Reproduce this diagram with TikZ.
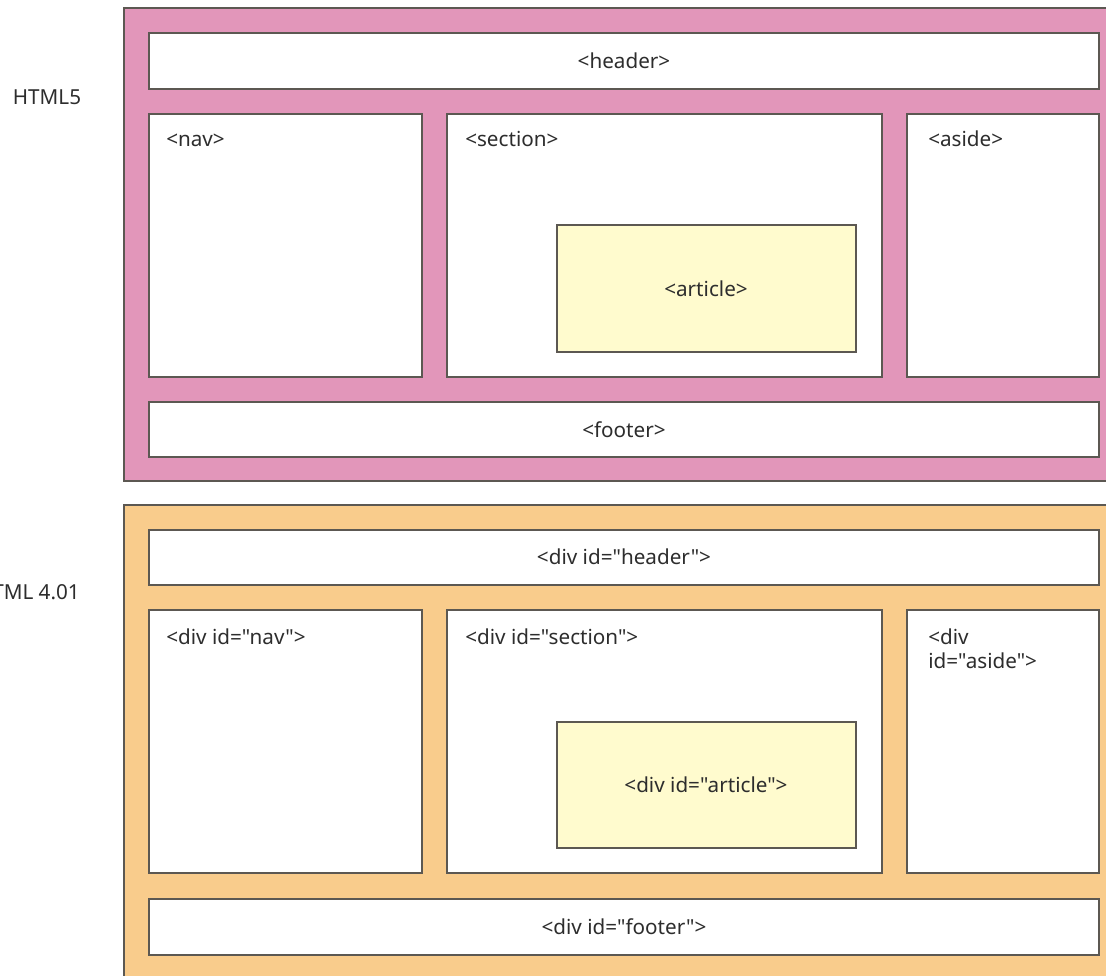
\documentclass[tikz,border=0pt]{standalone}
\usepackage{fontspec}
\setmainfont{Noto Sans}[Ligatures=TeXOff]
\definecolor{pinkfill}{RGB}{226,150,186}
\definecolor{orangefill}{RGB}{249,204,140}
\definecolor{articlefill}{RGB}{255,251,206}
\definecolor{edgegray}{RGB}{92,88,82}
\definecolor{txtgray}{RGB}{45,45,45}

\begin{document}
\begin{tikzpicture}
  [x=0.75pt,y=-0.75pt,
   every node/.style={text=txtgray,inner sep=0pt,font=\fontsize{15.5}{18}\selectfont},
   frame/.style={draw=edgegray,line width=0.8pt},
   box/.style={draw=edgegray,fill=white,line width=0.8pt},
   artbox/.style={draw=edgegray,fill=articlefill,line width=0.8pt},
   tag/.style={anchor=base west}]
  \useasboundingbox (0,0) rectangle (1106,975);
  \clip (0,0) rectangle (1106,975);

  % HTML5
  \draw[frame,fill=pinkfill] (124,8) rectangle (1130,481);
  \node (v5) at (47,97) {HTML5};

  \draw[box] (149,33) rectangle (1099,89);
  \node (hdr5) at (624,61) {<header>};

  \draw[box] (149,114) rectangle (422,377);
  \node[tag] (nav5) at (166,146) {<nav>};

  \draw[box] (447,114) rectangle (882,377);
  \node[tag] (sec5) at (465,146) {<section>};

  \draw[artbox] (557,225) rectangle (856,352);
  \node (art5) at (706,289) {<article>};

  \draw[box] (907,114) rectangle (1099,377);
  \node[tag] (asd5) at (928,146) {<aside>};

  \draw[box] (149,402) rectangle (1099,457);
  \node (ftr5) at (624,430) {<footer>};

  % HTML 4.01
  \draw[frame,fill=orangefill] (124,505) rectangle (1130,1000);
  \node[anchor=east] (v4) at (80,592) {HTML 4.01};

  \draw[box] (149,530) rectangle (1099,585);
  \node (hdr4) at (624,557) {<div id="header">};

  \draw[box] (149,610) rectangle (422,873);
  \node[tag] (nav4) at (166,644) {<div id="nav">};

  \draw[box] (447,610) rectangle (882,873);
  \node[tag] (sec4) at (465,644) {<div id="section">};

  \draw[artbox] (557,722) rectangle (856,848);
  \node (art4) at (706,785) {<div id="article">};

  \draw[box] (907,610) rectangle (1099,873);
  \node[tag,align=left] (asd4) at (928,668) {<div\\id="aside">};

  \draw[box] (149,899) rectangle (1099,955);
  \node (ftr4) at (624,927) {<div id="footer">};
\end{tikzpicture}
\end{document}
